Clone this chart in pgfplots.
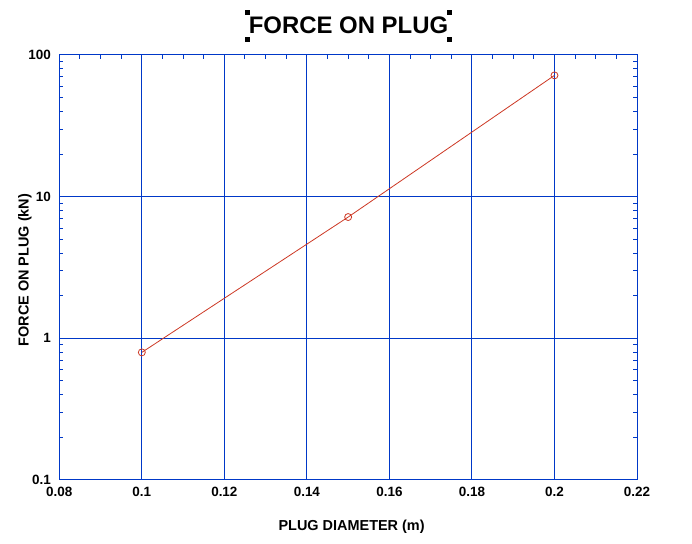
\documentclass[border=0pt]{standalone}
\usepackage{pgfplots}
\pgfplotsset{compat=1.18}
\usepackage{fontspec}
\setmainfont{Liberation Sans}
\definecolor{gridblue}{RGB}{0,56,200}
\definecolor{linered}{RGB}{204,55,35}
\begin{document}
\begin{tikzpicture}[x=1bp,y=1bp]
\useasboundingbox (0,0) rectangle (692,544);
\begin{axis}[
  at={(59.3bp,64bp)}, anchor=south west,
  scale only axis, width=577.7bp, height=425bp,
  xmin=0.08, xmax=0.22, ymin=0.1, ymax=100, ymode=log,
  xtick={0.08,0.1,0.12,0.14,0.16,0.18,0.2,0.22},
  xticklabels={0.08,0.1,0.12,0.14,0.16,0.18,0.2,0.22},
  ytick={0.1,1,10,100},
  yticklabels={0.1,1,10,100},
  minor x tick num=3,
  xtick pos=right, xticklabel pos=left,
  grid=major,
  major grid style={gridblue, line width=1bp},
  axis line style={gridblue, line width=1bp},
  tick style={gridblue, line width=1bp},
  major tick length=0pt,
  minor tick length=4bp,
  tick align=inside,
  ticklabel style={font=\fontsize{13.5}{15}\selectfont\bfseries, text=black},
  xticklabel style={yshift=-4bp},
  yticklabel style={xshift=-5bp},
  xlabel={PLUG DIAMETER (m)},
  ylabel={FORCE ON PLUG (kN)},
  label style={font=\fontsize{14.5}{17}\selectfont\bfseries},
  xlabel style={at={(axis description cs:0.506,-0.1106)}, anchor=center},
  ylabel style={at={(axis description cs:-0.0594,0.494)}, anchor=center, rotate=0},
  clip=false,
]
\addplot[linered, line width=0.8bp, mark=o, mark size=3.5bp, mark options={solid, line width=0.8bp}]
  coordinates {(0.1,0.796) (0.15,7.18) (0.2,71.8)};
\end{axis}
\node[font=\fontsize{24}{28}\selectfont\bfseries, anchor=center] at (348.5,519) {FORCE ON PLUG};
\fill[black] (245,529) rectangle (250,534);
\fill[black] (245,502) rectangle (250,507);
\fill[black] (447,529) rectangle (452,534);
\fill[black] (447,502) rectangle (452,507);
\end{tikzpicture}
\end{document}
